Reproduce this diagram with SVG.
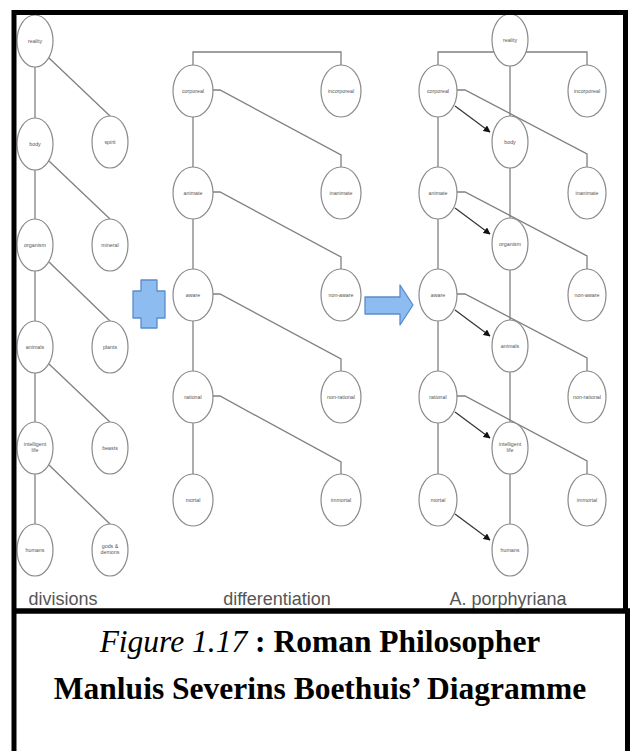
<svg xmlns="http://www.w3.org/2000/svg" width="635" height="751" viewBox="0 0 635 751">
<defs>
<style>
.n ellipse{fill:#fff;stroke:#8a8a8a;stroke-width:1.2}
.n text{font-family:"Liberation Sans",Arial,sans-serif;font-size:5.3px;fill:#555;text-anchor:middle}
.c path,.c line{fill:none;stroke:#808080;stroke-width:1.3}
.c .a{stroke:#333;stroke-width:1.2;marker-end:url(#ah)}
.lbl{font-family:"Liberation Sans",Arial,sans-serif;font-size:18px;fill:#555;text-anchor:middle}
.cap{font-family:"Liberation Serif","Times New Roman",serif;font-size:31.5px;font-weight:bold;fill:#000;text-anchor:middle}
.blue{fill:#8dbcf0;stroke:#5a8ccc;stroke-width:1.3;stroke-linejoin:round}
</style>
<marker id="ah" viewBox="0 0 10 10" refX="9" refY="5" markerWidth="7" markerHeight="7" markerUnits="userSpaceOnUse" orient="auto">
<path d="M0,0 L10,5 L0,10 z" fill="#111"/>
</marker>
</defs>
<rect width="635" height="751" fill="#fff"/>

<!-- connectors -->
<g class="c" id="connectors">
<!-- divisions -->
<line x1="35" y1="67" x2="35" y2="118"/>
<line x1="35" y1="170" x2="35" y2="219"/>
<line x1="35" y1="271" x2="35" y2="321"/>
<line x1="35" y1="373" x2="35" y2="422"/>
<line x1="35" y1="474" x2="35" y2="524"/>
<line x1="49" y1="58" x2="110" y2="116"/>
<line x1="49" y1="161" x2="110" y2="219"/>
<line x1="49" y1="262" x2="110" y2="321"/>
<line x1="49" y1="364" x2="110" y2="422"/>
<line x1="49" y1="465" x2="110" y2="524"/>
<!-- differentiation -->
<path d="M193,65 V52 H341 V65"/>
<line x1="193" y1="117" x2="193" y2="167"/>
<line x1="193" y1="219" x2="193" y2="269"/>
<line x1="193" y1="321" x2="193" y2="371"/>
<line x1="193" y1="423" x2="193" y2="474"/>
<path d="M212,90 H220 L341,155 V167"/>
<path d="M212,192 H220 L341,257 V269"/>
<path d="M212,294 H220 L341,359 V371"/>
<path d="M212,396 H220 L341,462 V474"/>
<!-- A. porphyriana -->
<path d="M438,65 V52 H587 V65"/>
<line x1="438" y1="117" x2="438" y2="167"/>
<line x1="438" y1="219" x2="438" y2="269"/>
<line x1="438" y1="321" x2="438" y2="371"/>
<line x1="438" y1="423" x2="438" y2="474"/>
<line x1="510" y1="66" x2="510" y2="116"/>
<line x1="510" y1="168" x2="510" y2="218"/>
<line x1="510" y1="270" x2="510" y2="320"/>
<line x1="510" y1="372" x2="510" y2="422"/>
<line x1="510" y1="474" x2="510" y2="524"/>
<path d="M457,90 H465 L587,154 V167"/>
<path d="M457,192 H465 L587,256 V269"/>
<path d="M457,294 H465 L587,358 V371"/>
<path d="M457,396 H465 L587,461 V474"/>
<line class="a" x1="455" y1="106" x2="490" y2="132"/>
<line class="a" x1="455" y1="208" x2="490" y2="234"/>
<line class="a" x1="455" y1="310" x2="490" y2="336"/>
<line class="a" x1="455" y1="412" x2="490" y2="438"/>
<line class="a" x1="455" y1="514" x2="490" y2="540"/>
</g>

<!-- divisions nodes -->
<g class="n" id="d-reality"><ellipse cx="35" cy="41" rx="18" ry="26"/><text x="35" y="43">reality</text></g>
<g class="n" id="d-body"><ellipse cx="35" cy="144" rx="18" ry="26"/><text x="35" y="146">body</text></g>
<g class="n" id="d-spirit"><ellipse cx="110" cy="142" rx="18" ry="26"/><text x="110" y="144">spirit</text></g>
<g class="n" id="d-organism"><ellipse cx="35" cy="245" rx="18" ry="26"/><text x="35" y="247">organism</text></g>
<g class="n" id="d-mineral"><ellipse cx="110" cy="245" rx="18" ry="26"/><text x="110" y="247">mineral</text></g>
<g class="n" id="d-animals"><ellipse cx="35" cy="347" rx="18" ry="26"/><text x="35" y="349">animals</text></g>
<g class="n" id="d-plants"><ellipse cx="110" cy="347" rx="18" ry="26"/><text x="110" y="349">plants</text></g>
<g class="n" id="d-intelligent"><ellipse cx="35" cy="448" rx="18" ry="26"/><text x="35" y="446">intelligent</text><text x="35" y="452">life</text></g>
<g class="n" id="d-beasts"><ellipse cx="110" cy="448" rx="18" ry="26"/><text x="110" y="450">beasts</text></g>
<g class="n" id="d-humans"><ellipse cx="35" cy="550" rx="18" ry="26"/><text x="35" y="552">humans</text></g>
<g class="n" id="d-gods"><ellipse cx="110" cy="550" rx="18" ry="26"/><text x="110" y="548">gods &amp;</text><text x="110" y="554">demons</text></g>

<!-- differentiation nodes -->
<g class="n" id="f-corporeal"><ellipse cx="193" cy="91" rx="20" ry="26"/><text x="193" y="93">corporeal</text></g>
<g class="n" id="f-incorporeal"><ellipse cx="341" cy="91" rx="20" ry="26"/><text x="341" y="93">incorporeal</text></g>
<g class="n" id="f-animate"><ellipse cx="193" cy="193" rx="20" ry="26"/><text x="193" y="195">animate</text></g>
<g class="n" id="f-inanimate"><ellipse cx="341" cy="193" rx="20" ry="26"/><text x="341" y="195">inanimate</text></g>
<g class="n" id="f-aware"><ellipse cx="193" cy="295" rx="20" ry="26"/><text x="193" y="297">aware</text></g>
<g class="n" id="f-nonaware"><ellipse cx="341" cy="295" rx="20" ry="26"/><text x="341" y="297">non-aware</text></g>
<g class="n" id="f-rational"><ellipse cx="193" cy="397" rx="20" ry="26"/><text x="193" y="399">rational</text></g>
<g class="n" id="f-nonrational"><ellipse cx="341" cy="397" rx="20" ry="26"/><text x="341" y="399">non-rational</text></g>
<g class="n" id="f-mortal"><ellipse cx="193" cy="500" rx="20" ry="26"/><text x="193" y="502">mortal</text></g>
<g class="n" id="f-immortal"><ellipse cx="341" cy="500" rx="20" ry="26"/><text x="341" y="502">immortal</text></g>

<!-- A. porphyriana nodes -->
<g class="n" id="p-reality"><ellipse cx="510" cy="40" rx="18" ry="26"/><text x="510" y="42">reality</text></g>
<g class="n" id="p-corporeal"><ellipse cx="438" cy="91" rx="19" ry="26"/><text x="438" y="93">corporeal</text></g>
<g class="n" id="p-incorporeal"><ellipse cx="587" cy="91" rx="19" ry="26"/><text x="587" y="93">incorporeal</text></g>
<g class="n" id="p-body"><ellipse cx="510" cy="142" rx="18" ry="26"/><text x="510" y="144">body</text></g>
<g class="n" id="p-animate"><ellipse cx="438" cy="193" rx="19" ry="26"/><text x="438" y="195">animate</text></g>
<g class="n" id="p-inanimate"><ellipse cx="587" cy="193" rx="19" ry="26"/><text x="587" y="195">inanimate</text></g>
<g class="n" id="p-organism"><ellipse cx="510" cy="244" rx="18" ry="26"/><text x="510" y="246">organism</text></g>
<g class="n" id="p-aware"><ellipse cx="438" cy="295" rx="19" ry="26"/><text x="438" y="297">aware</text></g>
<g class="n" id="p-nonaware"><ellipse cx="587" cy="295" rx="19" ry="26"/><text x="587" y="297">non-aware</text></g>
<g class="n" id="p-animals"><ellipse cx="510" cy="346" rx="18" ry="26"/><text x="510" y="348">animals</text></g>
<g class="n" id="p-rational"><ellipse cx="438" cy="397" rx="19" ry="26"/><text x="438" y="399">rational</text></g>
<g class="n" id="p-nonrational"><ellipse cx="587" cy="397" rx="19" ry="26"/><text x="587" y="399">non-rational</text></g>
<g class="n" id="p-intelligent"><ellipse cx="510" cy="448" rx="18" ry="26"/><text x="510" y="446">intelligent</text><text x="510" y="452">life</text></g>
<g class="n" id="p-mortal"><ellipse cx="438" cy="500" rx="19" ry="26"/><text x="438" y="502">mortal</text></g>
<g class="n" id="p-immortal"><ellipse cx="587" cy="500" rx="19" ry="26"/><text x="587" y="502">immortal</text></g>
<g class="n" id="p-humans"><ellipse cx="510" cy="550" rx="18" ry="26"/><text x="510" y="552">humans</text></g>

<!-- blue symbols -->
<g id="plus"><polygon class="blue" points="141,280 157,280 157,291 165,291 165,318 157,318 157,328 141,328 141,318 133,318 133,291 141,291"/></g>
<g id="arrow"><polygon class="blue" points="365,297 400,297 400,285 413,305 400,325 400,314 365,314"/></g>

<!-- column labels -->
<text class="lbl" x="63" y="605">divisions</text>
<text class="lbl" x="277" y="605">differentiation</text>
<text class="lbl" x="508" y="605">A. porphyriana</text>

<!-- frame -->
<g fill="none" stroke="#000">
<path d="M14,751 V12.5 H625.5 V611" stroke-width="5"/>
<line x1="12" y1="611" x2="630" y2="611" stroke-width="5.5"/>
<line x1="627.5" y1="609" x2="627.5" y2="751" stroke-width="5"/>
</g>

<!-- caption -->
<text class="cap" x="320" y="652"><tspan font-style="italic" font-weight="normal">Figure 1.17</tspan> : Roman Philosopher</text>
<text class="cap" x="320" y="699">Manluis Severins Boethuis’ Diagramme</text>
</svg>
